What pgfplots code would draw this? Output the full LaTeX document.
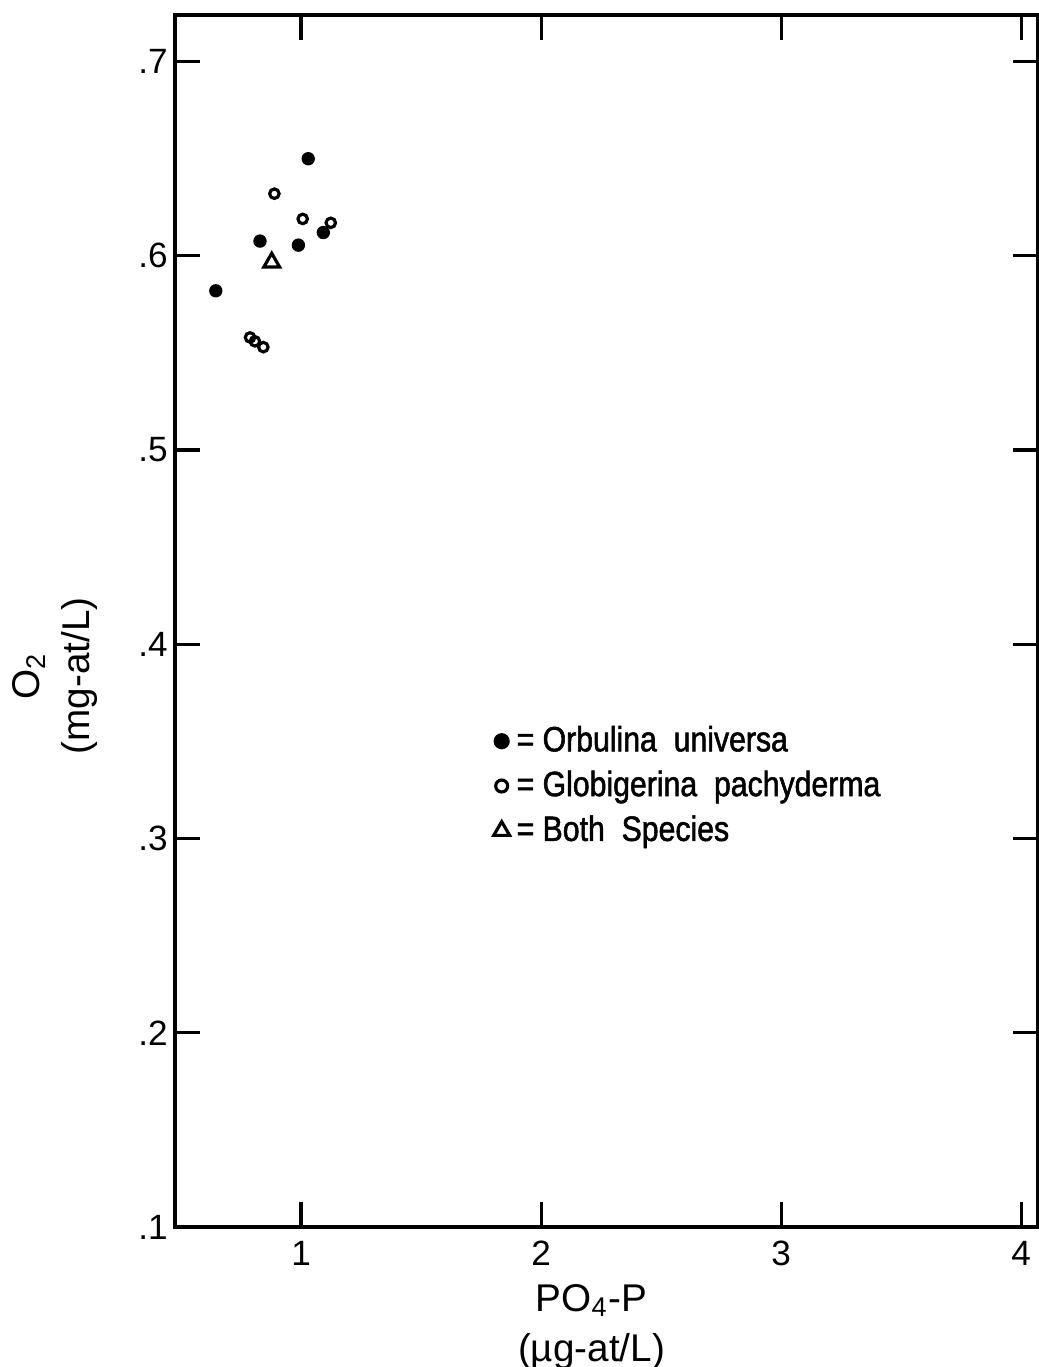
\documentclass[border=0pt]{standalone}
\usepackage{fontspec}
\setmainfont{Liberation Sans}
\newfontfamily\legfont[FakeStretch=0.86, FakeBold=1.5]{Liberation Sans}
\usepackage{pgfplots}
\pgfplotsset{compat=1.18}
\usetikzlibrary{calc}
\begin{document}
\begin{tikzpicture}
\begin{axis}[name=ax, scale only axis, width=8.63cm, height=12.12cm,
  xmin=0.475, xmax=4.07, ymin=0.1, ymax=0.724,
  xtick={1,2,3,4}, ytick={0.1,0.2,0.3,0.4,0.5,0.6,0.7},
  yticklabels={.1,.2,.3,.4,.5,.6,.7},
  xticklabels={1,2,3,4},
  major tick length=0.25cm,
  tick align=inside,
  every tick/.style={black, line width=0.9pt},
  axis line style={line width=0.9pt},
  tick label style={font=\fontsize{10}{12}\selectfont},
  yticklabel style={xshift=0.05cm},
  xticklabel style={yshift=-0.02cm},
  legend style={at={(axis cs:1.80,0.362)}, anchor=north west, draw=none, fill=none,
    font=\legfont\fontsize{10}{11}\selectfont, row sep=0pt, inner sep=0pt},
  legend cell align=left,
  ]
\addplot[only marks, mark=*, mark size=1.7pt, black, legend image post style={mark size=2.1pt}] coordinates {
  (1.030,0.650) (0.829,0.6076) (0.989,0.6055) (1.093,0.612) (0.645,0.582)};
\addlegendentry{= Orbulina\ \ universa}
\addplot[only marks, mark=o, mark size=1.35pt, black, line width=0.9pt, legend image post style={mark size=1.7pt}] coordinates {
  (0.889,0.632) (1.007,0.619) (1.124,0.617) (0.7875,0.558) (0.808,0.556) (0.843,0.553)};
\addlegendentry{= Globigerina\ \ pachyderma}
\addplot[only marks, mark=triangle, mark size=2.6pt, black, line width=0.9pt] coordinates {
  (0.878,0.5966)};
\addlegendentry{= Both\ \ Species}
\end{axis}
\node[rotate=90, align=center, font=\fontsize{11}{14}\selectfont] at ($(ax.west)+(-1.2cm,-0.55cm)$) {O\textsubscript{2}\\(mg-at/L)};
\node[align=center, font=\fontsize{11}{14.5}\selectfont] at ($(ax.south)+(-0.15cm,-1.0cm)$) {PO\textsubscript{4}-P\\(µg-at/L)};
\pgfresetboundingbox
\path[use as bounding box] ($(ax.south west)+(-1.75cm,-1.40cm)$) rectangle ($(ax.north east)+(0.01cm,0.15cm)$);
\end{tikzpicture}
\end{document}
